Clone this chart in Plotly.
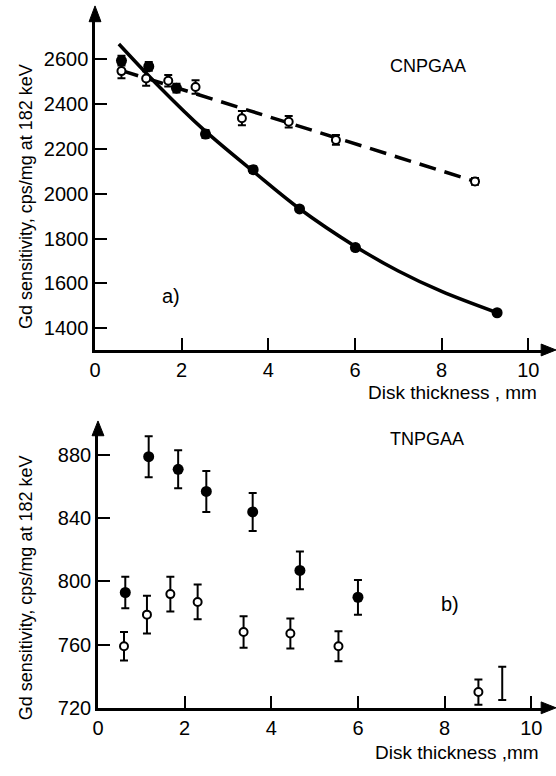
import plotly.graph_objects as go

# ---- panel a) CNPGAA ----
a_open_x = [0.61, 1.18, 1.69, 2.32, 3.39, 4.47, 5.56, 8.77]
a_open_y = [2547, 2514, 2504, 2476, 2337, 2321, 2240, 2055]
a_open_err = [32, 32, 26, 30, 32, 26, 22, 15]

a_fill_x = [0.61, 1.24, 1.88, 2.55, 3.65, 4.72, 6.01, 9.28]
a_fill_y = [2594, 2568, 2471, 2266, 2107, 1932, 1760, 1469]
a_fill_err = [22, 20, 20, 18, 15, 10, 12, 0]

# straight fit through the open points
a_dash_x = [0.62, 8.77]
a_dash_y = [2549, 2055]

# smooth curve through the filled points
a_curve_x = [0.55, 1.5, 2.5, 3.65, 4.72, 6.0, 7.0, 8.0, 9.28]
a_curve_y = [2668, 2474, 2287, 2100, 1933, 1766, 1655, 1564, 1469]

a_yticks = [1400, 1600, 1800, 2000, 2200, 2400, 2600]

# ---- panel b) TNPGAA ----
b_fill_x = [0.63, 1.17, 1.85, 2.50, 3.57, 4.66, 6.00]
b_fill_y = [793, 879, 871, 857, 844, 807, 790]
b_fill_err = [10, 13, 12, 13, 12, 12, 11]

b_open_x = [0.60, 1.13, 1.67, 2.30, 3.36, 4.44, 5.55, 8.78]
b_open_y = [759, 779, 792, 787, 768, 767, 759, 730]
b_open_err = [9, 12, 11, 11, 10, 9.5, 9.5, 8]

b_bar_x = [9.33]
b_bar_y = [735.5]
b_bar_err = [10.5]

b_yticks = [720, 760, 800, 840, 880]
x_ticks = [0, 2, 4, 6, 8, 10]

W, H = 556, 776
FONT = "Liberation Sans Narrow, Liberation Sans, Arial, sans-serif"


def px(x):
    return x / W


def py(y):
    return 1 - y / H


fig = go.Figure()

# panel a
fig.add_trace(go.Scatter(x=a_dash_x, y=a_dash_y, mode="lines",
                         line=dict(color="black", width=3.5, dash="17px,9px"),
                         xaxis="x", yaxis="y"))
fig.add_trace(go.Scatter(x=a_curve_x, y=a_curve_y, mode="lines",
                         line=dict(color="black", width=3.5, shape="spline", smoothing=1.0),
                         xaxis="x", yaxis="y"))
fig.add_trace(go.Scatter(x=a_open_x, y=a_open_y, mode="markers",
                         marker=dict(symbol="circle", size=8, color="white",
                                     line=dict(color="black", width=2)),
                         error_y=dict(type="data", array=a_open_err, color="black",
                                      thickness=2, width=4),
                         xaxis="x", yaxis="y"))
fig.add_trace(go.Scatter(x=a_fill_x, y=a_fill_y, mode="markers",
                         marker=dict(symbol="circle", size=11, color="black"),
                         error_y=dict(type="data", array=a_fill_err, color="black",
                                      thickness=2, width=4),
                         xaxis="x", yaxis="y"))

# panel b
fig.add_trace(go.Scatter(x=b_open_x, y=b_open_y, mode="markers",
                         marker=dict(symbol="circle", size=8, color="white",
                                     line=dict(color="black", width=2)),
                         error_y=dict(type="data", array=b_open_err, color="black",
                                      thickness=2, width=4),
                         xaxis="x2", yaxis="y2"))
fig.add_trace(go.Scatter(x=b_fill_x, y=b_fill_y, mode="markers",
                         marker=dict(symbol="circle", size=11, color="black"),
                         error_y=dict(type="data", array=b_fill_err, color="black",
                                      thickness=2, width=4),
                         xaxis="x2", yaxis="y2"))
fig.add_trace(go.Scatter(x=b_bar_x, y=b_bar_y, mode="markers",
                         marker=dict(size=1, color="rgba(0,0,0,0)"),
                         error_y=dict(type="data", array=b_bar_err, color="black",
                                      thickness=2, width=4),
                         xaxis="x2", yaxis="y2"))

axis_common = dict(showline=True, linecolor="black", linewidth=2.5, showgrid=False,
                   zeroline=False, ticks="inside", ticklen=12, tickwidth=1.5,
                   tickcolor="black", tickfont=dict(family=FONT, size=20, color="black"))

# pixel scales: 43.8 px per mm
fig.update_layout(
    width=W, height=H,
    margin=dict(l=0, r=0, t=0, b=0),
    paper_bgcolor="white", plot_bgcolor="white",
    showlegend=False,
    xaxis=dict(domain=[px(90), px(548)], range=[0, 458 / 43.8], anchor="y",
               tickvals=x_ticks, **axis_common),
    yaxis=dict(domain=[py(355), py(18)], range=[1303, 2785], anchor="x",
               tickvals=a_yticks, **axis_common),
    xaxis2=dict(domain=[px(93), px(548)], range=[0, 455 / 43.8], anchor="y2",
                tickvals=x_ticks, **axis_common),
    yaxis2=dict(domain=[py(718), py(436)], range=[720, 896], anchor="x2",
                tickvals=b_yticks, **axis_common),
)

# arrow heads on the axes
def tri(tip, b1, b2):
    return "M {} {} L {} {} L {} {} Z".format(px(tip[0]), py(tip[1]), px(b1[0]), py(b1[1]),
                                             px(b2[0]), py(b2[1]))

for path in [tri((556, 355), (541, 349), (541, 361)),
             tri((90, 6), (84, 22), (96, 22)),
             tri((556, 718), (541, 712), (541, 724)),
             tri((93, 427), (87, 442), (99, 442))]:
    fig.add_shape(type="path", path=path, xref="paper", yref="paper",
                  fillcolor="black", line=dict(color="black", width=1))

def label(text, x, y, size=18, angle=0):
    fig.add_annotation(text=text, x=px(x), y=py(y), xref="paper", yref="paper",
                       showarrow=False, xanchor="center", yanchor="middle",
                       textangle=angle, font=dict(family=FONT, size=size, color="black"))

label("Gd sensitivity, cps/mg at 182 keV", 20, 199, angle=-90)
label("Gd sensitivity, cps/mg at 182 keV", 20, 596, angle=-90)
label("Disk thickness , mm", 451, 398, size=19)
label("Disk thickness ,mm", 456, 763, size=19)
label("CNPGAA", 427, 67)
label("TNPGAA", 426, 445)
label("a)", 167, 300, size=20)
label("b)", 449, 613, size=20)

fig.write_html("out.html")
